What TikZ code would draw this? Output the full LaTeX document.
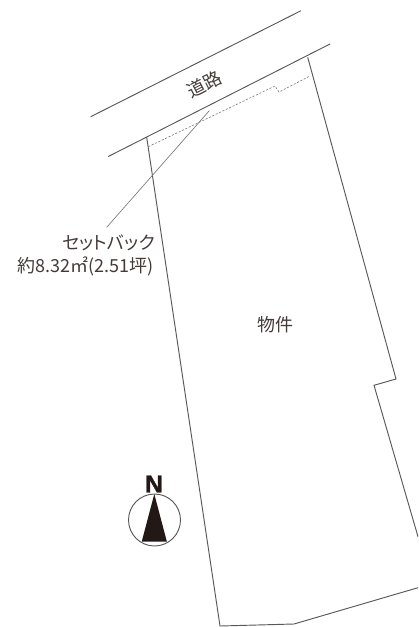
\documentclass[tikz,border=0pt]{standalone}
\usepackage{fontspec}
\setmainfont{Noto Sans CJK JP}
\newfontfamily\tightkana[RawFeature=+palt]{Noto Sans CJK JP}
\newfontfamily\latinlabel[BoldFeatures={FakeBold=1.5}]{Liberation Sans}
\definecolor{inkdark}{HTML}{231815}
\definecolor{linegrey}{HTML}{595757}
\tikzset{
  boundary/.style={draw=linegrey,line width=0.7pt,line join=miter},
  setback/.style={draw=linegrey!80,line width=0.45pt,dash pattern=on 1.6pt off 1.2pt},
  leader/.style={draw=linegrey!80,line width=0.5pt},
  label/.style={text=inkdark!85,inner sep=0pt,font=\fontsize{13.5}{16}\selectfont},
}
\begin{document}
\begin{tikzpicture}[x=0.75pt,y=-0.75pt]
\useasboundingbox (0,0) rectangle (418,627);
% road
\coordinate (rt1) at (90.7,116.7);
\coordinate (rt2) at (301,10.7);
\coordinate (rb1) at (108.3,156.5);
\coordinate (rb2) at (330,44);
\draw[boundary] (rt1) -- (rt2);
\draw[boundary] (rb1) -- (rb2);
% lot
\coordinate (a) at (146.7,137.3);
\coordinate (b) at (220,626);
\coordinate (c) at (294,624);
\coordinate (d) at (418,587.7);
\coordinate (e) at (418,536.7);
\coordinate (f) at (374,385.3);
\coordinate (g) at (396,379);
\coordinate (h) at (307.7,57.3);
\draw[boundary] (a) -- (b) -- (c) -- (d);
\draw[boundary] (e) -- (f) -- (g) -- (h);
% setback
\coordinate (s1) at (148.3,146.7);
\coordinate (s2) at (275,86);
\coordinate (s3) at (279,92);
\coordinate (s4) at (310,76);
\draw[setback] (s1) -- (s2) -- (s3) -- (s4);
% labels
\node[label,rotate=27] (road) at (204.5,84.5) {道路};
\node[label,anchor=east,font=\tightkana\fontsize{13.5}{16}\selectfont] (sb) at (155,243) {セットバック};
\node[label,anchor=east] (area) at (153.5,266) {約8.32㎡(2.51坪)};
\node[label] (lot) at (275,325) {物件};
% leader
\coordinate (l1) at (209.3,110.7);
\coordinate (l2) at (106.7,227.3);
\draw[leader] (l1) -- (l2);
% north mark
\node[draw=linegrey,line width=0.7pt,circle,minimum size=39pt,inner sep=0pt] (compass) at (154.5,520) {};
\coordinate (n1) at (154.3,494);
\coordinate (n2) at (141.7,541.7);
\coordinate (n3) at (166.9,541.7);
\fill[inkdark] (n1) -- (n2) -- (n3) -- cycle;
\node[inner sep=0pt,text=inkdark,font=\latinlabel\bfseries\fontsize{18.5}{20}\selectfont] (north) at (154,484) {N};
\end{tikzpicture}
\end{document}
